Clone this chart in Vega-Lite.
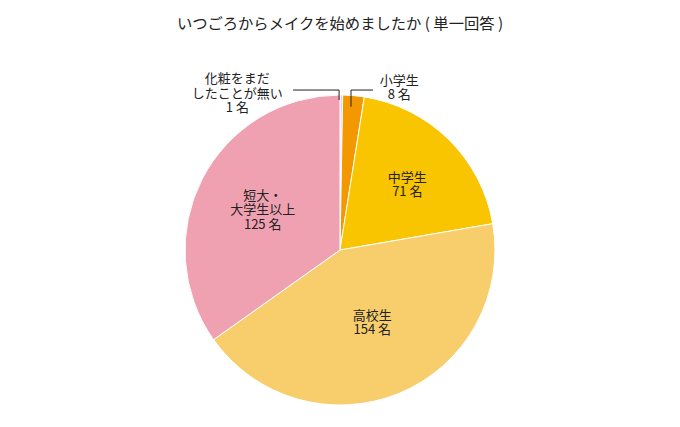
{
  "$schema": "https://vega.github.io/schema/vega-lite/v6.json",
  "width": 680,
  "height": 310,
  "autosize": {"type": "none"},
  "padding": {"top": 95, "left": 0, "right": 0, "bottom": 22},
  "title": {"text": "いつごろからメイクを始めましたか ( 単一回答 )", "fontSize": 15.3, "fontWeight": "normal", "font": "Noto Sans CJK JP", "color": "#222222", "offset": 41, "anchor": "middle"},
  "config": {"view": {"stroke": null}},
  "data": {"values": [
    {"category": "化粧をまだしたことが無い", "count": 1, "order": 1, "label": "化粧をまだ\nしたことが無い\n1 名"},
    {"category": "小学生", "count": 8, "order": 2, "label": "小学生\n8 名"},
    {"category": "中学生", "count": 71, "order": 3, "label": "中学生\n71 名"},
    {"category": "高校生", "count": 154, "order": 4, "label": "高校生\n154 名"},
    {"category": "短大・大学生以上", "count": 125, "order": 5, "label": "短大・\n大学生以上\n125 名"}
  ]},
  "layer": [
    {
      "mark": {"type": "arc", "outerRadius": 155, "stroke": "white", "strokeWidth": 1},
      "encoding": {
        "theta": {"field": "count", "type": "quantitative", "stack": true},
        "order": {"field": "order", "type": "quantitative"},
        "color": {"field": "category", "type": "nominal", "legend": null,
          "scale": {"domain": ["化粧をまだしたことが無い", "小学生", "中学生", "高校生", "短大・大学生以上"],
                    "range": ["#f2cdea", "#f39800", "#f8c500", "#f7ce6b", "#f0a1b1"]}}
      }
    },
    {
      "mark": {"type": "text", "radius": 93, "dx": 2, "dy": -6, "font": "Noto Sans CJK JP", "fontSize": 13, "color": "#222222", "lineBreak": "\n", "lineHeight": 14.5, "align": "center", "baseline": "middle"},
      "encoding": {
        "theta": {"field": "count", "type": "quantitative", "stack": true},
        "order": {"field": "order", "type": "quantitative"},
        "text": {"condition": {"test": "datum.category === '中学生'", "field": "label"}, "value": ""}
      }
    },
    {
      "mark": {"type": "text", "radius": 79, "dx": 2, "dy": -7, "font": "Noto Sans CJK JP", "fontSize": 13, "color": "#222222", "lineBreak": "\n", "lineHeight": 14.5, "align": "center", "baseline": "middle"},
      "encoding": {
        "theta": {"field": "count", "type": "quantitative", "stack": true},
        "order": {"field": "order", "type": "quantitative"},
        "text": {"condition": {"test": "datum.category === '高校生'", "field": "label"}, "value": ""}
      }
    },
    {
      "mark": {"type": "text", "radius": 87, "dy": -14.5, "font": "Noto Sans CJK JP", "fontSize": 13, "color": "#222222", "lineBreak": "\n", "lineHeight": 14.5, "align": "center", "baseline": "middle"},
      "encoding": {
        "theta": {"field": "count", "type": "quantitative", "stack": true},
        "order": {"field": "order", "type": "quantitative"},
        "text": {"condition": {"test": "datum.category === '短大・大学生以上'", "field": "label"}, "value": ""}
      }
    },
    {
      "mark": {"type": "text", "radius": 163, "dx": 45, "dy": -7, "font": "Noto Sans CJK JP", "fontSize": 13, "color": "#222222", "lineBreak": "\n", "lineHeight": 14.5, "align": "center", "baseline": "middle"},
      "encoding": {
        "theta": {"field": "count", "type": "quantitative", "stack": true},
        "order": {"field": "order", "type": "quantitative"},
        "text": {"condition": {"test": "datum.category === '小学生'", "field": "label"}, "value": ""}
      }
    },
    {
      "mark": {"type": "text", "radius": 157, "dx": -104, "dy": -14, "font": "Noto Sans CJK JP", "fontSize": 13, "color": "#222222", "lineBreak": "\n", "lineHeight": 14.5, "align": "center", "baseline": "middle"},
      "encoding": {
        "theta": {"field": "count", "type": "quantitative", "stack": true},
        "order": {"field": "order", "type": "quantitative"},
        "text": {"condition": {"test": "datum.category === '化粧をまだしたことが無い'", "field": "label"}, "value": ""}
      }
    },
    {
      "data": {"values": [{"seg": "a"}]},
      "mark": {"type": "rule", "color": "#222222", "strokeWidth": 1},
      "encoding": {
        "x": {"datum": -0.006, "type": "quantitative", "scale": {"domain": [-2.1935, 2.1935], "nice": false, "zero": false}, "axis": null},
        "y": {"datum": 0.968, "type": "quantitative", "scale": {"domain": [-1, 1], "nice": false, "zero": false}, "axis": null},
        "x2": {"datum": -0.006},
        "y2": {"datum": 1.032}
      }
    },
    {
      "data": {"values": [{"seg": "b"}]},
      "mark": {"type": "rule", "color": "#222222", "strokeWidth": 1},
      "encoding": {
        "x": {"datum": -0.303, "type": "quantitative"},
        "y": {"datum": 1.032, "type": "quantitative"},
        "x2": {"datum": -0.006},
        "y2": {"datum": 1.032}
      }
    },
    {
      "data": {"values": [{"seg": "c"}]},
      "mark": {"type": "rule", "color": "#222222", "strokeWidth": 1},
      "encoding": {
        "x": {"datum": 0.071, "type": "quantitative"},
        "y": {"datum": 0.925, "type": "quantitative"},
        "x2": {"datum": 0.071},
        "y2": {"datum": 1.032}
      }
    },
    {
      "data": {"values": [{"seg": "d"}]},
      "mark": {"type": "rule", "color": "#222222", "strokeWidth": 1},
      "encoding": {
        "x": {"datum": 0.071, "type": "quantitative"},
        "y": {"datum": 1.032, "type": "quantitative"},
        "x2": {"datum": 0.213},
        "y2": {"datum": 1.032}
      }
    }
  ]
}
